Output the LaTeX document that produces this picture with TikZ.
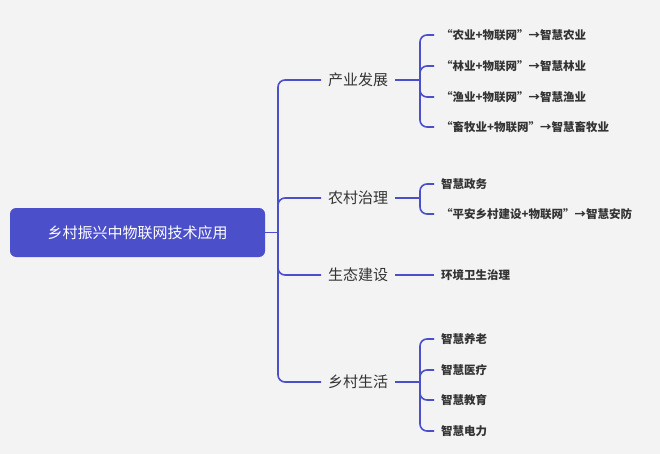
\documentclass[tikz,border=0pt]{standalone}
\usepackage{fontspec}
\setmainfont{Noto Sans CJK SC}
\begin{document}
\begin{tikzpicture}[x=1pt,y=-1pt,
  ln/.style={draw=lc,line width=1.6pt,rounded corners=7pt},
  br/.style={anchor=west,inner sep=1pt,font=\fontsize{15}{17}\selectfont,text=tc},
  lf/.style={anchor=west,inner sep=1pt,font=\fontsize{11.5}{13}\selectfont\bfseries,text=tc}]
\definecolor{lc}{HTML}{4B4FC9}
\definecolor{tc}{HTML}{333333}
\definecolor{bg}{HTML}{F3F3F3}
\fill[bg] (0,0) rectangle (660,454);
\useasboundingbox (0,0) rectangle (660,454);
\node[fill=lc,rounded corners=6pt,minimum width=255pt,minimum height=49pt,text=white,font=\fontsize{15}{17}\selectfont] (root) at (137.5,232.5) {乡村振兴中物联网技术应用};
\coordinate (j) at (278,232.5);
\draw[ln] (root.east) -- (j);
\node[br] (b1) at (327,80) {产业发展};
\node[br] (b2) at (327,198) {农村治理};
\node[br] (b3) at (327,275) {生态建设};
\node[br] (b4) at (327,382) {乡村生活};
\foreach \b in {b1,b2,b3,b4}{\draw[ln] (j) |- ([xshift=-6pt]\b.west);}
% leaves
\node[lf] (l11) at (440,35) {“农业+物联网”→智慧农业};
\node[lf] (l12) at (440,66) {“林业+物联网”→智慧林业};
\node[lf] (l13) at (440,97) {“渔业+物联网”→智慧渔业};
\node[lf] (l14) at (440,127) {“畜牧业+物联网”→智慧畜牧业};
\node[lf] (l21) at (440,184) {智慧政务};
\node[lf] (l22) at (440,214) {“平安乡村建设+物联网”→智慧安防};
\node[lf] (l31) at (440,275) {环境卫生治理};
\node[lf] (l41) at (440,339) {智慧养老};
\node[lf] (l42) at (440,370) {智慧医疗};
\node[lf] (l43) at (440,400) {智慧教育};
\node[lf] (l44) at (440,431) {智慧电力};
\coordinate (c1) at (420,80);
\coordinate (c2) at (420,198);
\coordinate (c4) at (420,382);
\draw[ln] ([xshift=6pt]b1.east) -- (c1);
\draw[ln] ([xshift=6pt]b2.east) -- (c2);
\draw[ln] ([xshift=6pt]b4.east) -- (c4);
\draw[ln] ([xshift=6pt]b3.east) -- ([xshift=-6pt]l31.west);
\foreach \l in {l11,l12,l13,l14}{\draw[ln] (c1) |- ([xshift=-6pt]\l.west);}
\foreach \l in {l21,l22}{\draw[ln] (c2) |- ([xshift=-6pt]\l.west);}
\foreach \l in {l41,l42,l43,l44}{\draw[ln] (c4) |- ([xshift=-6pt]\l.west);}
\end{tikzpicture}
\end{document}
